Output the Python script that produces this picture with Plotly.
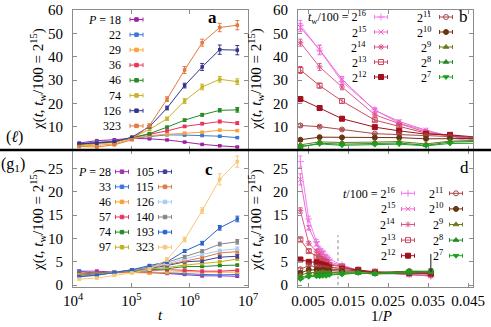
import plotly.graph_objects as go

FONT = "Liberation Serif, Times New Roman, serif"
W, H = 491, 327

# waiting times: t/100 = 2^k
t_exp = [7, 8, 9, 10, 11, 12, 13, 14, 15, 16]
t_vals = [100 * 2 ** k for k in t_exp]

# ---- panel a (l): chi vs t, one curve per P ----
P_a = [18, 22, 29, 36, 46, 74, 126, 323]
chi_a_18 = [3.0, 4.0, 4.4, 5.0, 4.8, 4.3, 3.4, 2.4, 1.8, 1.3]
chi_a_22 = [2.8, 3.4, 3.8, 5.0, 5.8, 6.5, 6.4, 6.2, 5.9, 5.3]
chi_a_29 = [1.8, 2.0, 2.6, 4.8, 6.2, 6.8, 7.2, 7.6, 8.5, 8.3]
chi_a_36 = [2.5, 3.0, 3.6, 5.3, 6.8, 8.2, 10.1, 11.3, 12.2, 11.5]
chi_a_46 = [2.3, 2.8, 3.4, 5.3, 7.0, 9.8, 12.8, 15.1, 17.0, 17.2]
chi_a_74 = [2.0, 2.5, 3.2, 5.4, 8.8, 13.4, 21.0, 27.0, 30.3, 29.3]
chi_a_126 = [2.6, 2.9, 3.5, 5.5, 10.0, 18.0, 27.6, 35.6, 43.0, 42.8]
chi_a_323 = [1.5, 1.3, 2.2, 4.4, 10.5, 21.8, 34.3, 46.0, 52.5, 53.5]
chi_a = [chi_a_18, chi_a_22, chi_a_29, chi_a_36, chi_a_46, chi_a_74, chi_a_126, chi_a_323]

err_a_18 = [0.2, 0.2, 0.2, 0.2, 0.2, 0.2, 0.2, 0.2, 0.2, 0.2]
err_a_22 = [0.2, 0.2, 0.2, 0.2, 0.3, 0.3, 0.3, 0.3, 0.3, 0.3]
err_a_29 = [0.2, 0.2, 0.2, 0.2, 0.3, 0.3, 0.4, 0.4, 0.4, 0.4]
err_a_36 = [0.2, 0.2, 0.2, 0.3, 0.3, 0.4, 0.5, 0.5, 0.6, 0.6]
err_a_46 = [0.2, 0.2, 0.2, 0.3, 0.3, 0.4, 0.5, 0.6, 0.7, 1.0]
err_a_74 = [0.2, 0.2, 0.2, 0.3, 0.5, 0.7, 1.0, 1.2, 1.2, 1.2]
err_a_126 = [0.2, 0.2, 0.3, 0.3, 0.5, 0.8, 1.0, 1.5, 2.0, 2.0]
err_a_323 = [0.2, 0.2, 0.3, 0.4, 0.7, 1.0, 1.5, 1.5, 1.8, 2.0]
err_a = [err_a_18, err_a_22, err_a_29, err_a_36, err_a_46, err_a_74, err_a_126, err_a_323]

colors_a = ["#a020a0", "#3a78d8", "#f9a23c", "#e8345c", "#228b22", "#c9b326", "#34348f", "#e27a3f"]

# 1/P positions of the P columns in panel b
invP_b = [0.0556, 0.0405, 0.0345, 0.0278, 0.0217, 0.0135, 0.0079, 0.0031]

# ---- panel c (g1): chi vs t, one curve per P ----
P_c = [28, 33, 46, 57, 74, 97, 105, 115, 126, 140, 193, 323]
chi_c_28 = [3.0, 3.0, 2.8, 2.8, 2.7, 2.5, 2.3, 2.0, 2.0, 1.9]
chi_c_33 = [3.0, 2.5, 2.8, 3.0, 2.8, 2.6, 2.5, 2.3, 2.2, 2.3]
chi_c_46 = [2.4, 2.4, 2.6, 2.7, 2.6, 2.7, 2.9, 2.8, 2.8, 2.8]
chi_c_57 = [2.6, 2.6, 2.7, 3.0, 3.1, 3.3, 3.2, 3.0, 3.0, 3.2]
chi_c_74 = [2.3, 2.5, 2.7, 3.0, 3.3, 3.5, 4.0, 4.0, 4.2, 4.3]
chi_c_97 = [2.2, 2.4, 2.7, 3.1, 3.4, 3.8, 4.3, 4.6, 5.0, 5.6]
chi_c_105 = [2.0, 2.3, 2.7, 3.2, 3.6, 4.2, 5.0, 5.2, 6.0, 6.2]
chi_c_115 = [2.0, 2.3, 2.8, 3.3, 3.7, 4.4, 5.2, 5.9, 6.9, 7.2]
chi_c_126 = [1.9, 2.2, 2.7, 3.2, 3.8, 4.6, 5.6, 6.6, 7.4, 7.8]
chi_c_140 = [1.9, 2.2, 2.7, 3.3, 3.9, 4.9, 6.1, 7.3, 8.8, 9.3]
chi_c_193 = [1.8, 2.1, 2.7, 3.3, 4.2, 5.0, 7.3, 9.0, 12.3, 14.2]
chi_c_323 = [1.3, 1.5, 2.1, 2.6, 3.4, 5.5, 9.8, 16.0, 22.7, 26.5]
chi_c = [chi_c_28, chi_c_33, chi_c_46, chi_c_57, chi_c_74, chi_c_97,
         chi_c_105, chi_c_115, chi_c_126, chi_c_140, chi_c_193, chi_c_323]

err_c_28 = [0.2, 0.2, 0.2, 0.2, 0.2, 0.2, 0.2, 0.2, 0.2, 0.2]
err_c_33 = [0.2, 0.2, 0.2, 0.2, 0.2, 0.2, 0.2, 0.2, 0.2, 0.2]
err_c_46 = [0.2, 0.2, 0.2, 0.2, 0.2, 0.2, 0.2, 0.2, 0.2, 0.2]
err_c_57 = [0.2, 0.2, 0.2, 0.2, 0.2, 0.2, 0.2, 0.2, 0.2, 0.2]
err_c_74 = [0.2, 0.2, 0.2, 0.2, 0.2, 0.2, 0.2, 0.2, 0.2, 0.2]
err_c_97 = [0.2, 0.2, 0.2, 0.2, 0.2, 0.2, 0.2, 0.2, 0.3, 0.3]
err_c_105 = [0.2, 0.2, 0.2, 0.2, 0.2, 0.2, 0.2, 0.3, 0.3, 0.4]
err_c_115 = [0.2, 0.2, 0.2, 0.2, 0.2, 0.2, 0.2, 0.3, 0.3, 0.3]
err_c_126 = [0.2, 0.2, 0.2, 0.2, 0.2, 0.2, 0.2, 0.3, 0.3, 0.4]
err_c_140 = [0.2, 0.2, 0.2, 0.2, 0.2, 0.2, 0.3, 0.3, 0.4, 0.5]
err_c_193 = [0.2, 0.2, 0.2, 0.2, 0.2, 0.3, 0.3, 0.4, 0.5, 0.6]
err_c_323 = [0.2, 0.2, 0.2, 0.2, 0.3, 0.4, 0.5, 0.6, 1.2, 1.2]
err_c = [err_c_28, err_c_33, err_c_46, err_c_57, err_c_74, err_c_97,
         err_c_105, err_c_115, err_c_126, err_c_140, err_c_193, err_c_323]

colors_c = ["#a030b0", "#3a76e0", "#f9a030", "#e8345e", "#228b22", "#c2b022",
            "#40409a", "#e07a40", "#a8cdf2", "#868686", "#2a62d0", "#f8c878"]

# ---- panels b, d: chi vs 1/P, one curve per t (same data transposed) ----
colors_t = ["#f27ff2", "#ee6ad0", "#dc5a90", "#cc4a60", "#a0101e",
            "#a84848", "#6a3410", "#6b7a22", "#2a8a2a", "#1ea01e"]
symbols_t = ["cross-thin-open", "x-thin-open", "asterisk-open", "square-open", "square",
             "circle-open", "circle", "triangle-up", "triangle-up", "triangle-down"]
legend_exp = [16, 15, 14, 13, 12, 11, 10, 9, 8, 7]

fig = go.Figure()

# panel a
for i, P in enumerate(P_a):
    c = colors_a[i]
    fig.add_trace(go.Scatter(x=t_vals, y=chi_a[i], xaxis="x", yaxis="y", mode="lines+markers",
                             line=dict(color=c, width=1), marker=dict(symbol="square", size=3.5, color=c),
                             error_y=dict(type="data", array=err_a[i], width=2, thickness=1, color=c),
                             showlegend=False))

# panel c
for i, P in enumerate(P_c):
    c = colors_c[i]
    fig.add_trace(go.Scatter(x=t_vals, y=chi_c[i], xaxis="x3", yaxis="y3", mode="lines+markers",
                             line=dict(color=c, width=1), marker=dict(symbol="square", size=3.5, color=c),
                             error_y=dict(type="data", array=err_c[i], width=2, thickness=1, color=c),
                             showlegend=False))

invP_d = [1.0 / P for P in P_c]

# panels b and d
for j, k in enumerate(legend_exp):
    col = t_exp.index(k)
    c = colors_t[j]
    mk = dict(symbol=symbols_t[j], size=5, color=c, line=dict(color=c, width=1))
    fig.add_trace(go.Scatter(x=invP_b, y=[row[col] for row in chi_a], xaxis="x2", yaxis="y2",
                             mode="lines+markers", line=dict(color=c, width=1), marker=mk,
                             error_y=dict(type="data", array=[row[col] for row in err_a],
                                          width=2, thickness=1, color=c),
                             showlegend=False))
    fig.add_trace(go.Scatter(x=invP_d, y=[row[col] for row in chi_c], xaxis="x4", yaxis="y4",
                             mode="lines+markers", line=dict(color=c, width=1), marker=mk,
                             error_y=dict(type="data", array=[row[col] for row in err_c],
                                          width=2, thickness=1, color=c),
                             showlegend=False))

# ---- hand-drawn gnuplot-style keys (pixel coordinates on an overlay axis) ----
annotations = []
LEG_FONT = dict(family=FONT, size=12, color="black")


def key_item(text, tx, cx, cy, color, symbol, size):
    annotations.append(dict(xref="x9", yref="y9", x=tx, y=cy, text=text, xanchor="right",
                            yanchor="middle", showarrow=False, font=LEG_FONT))
    fig.add_trace(go.Scatter(x=[cx], y=[cy], xaxis="x9", yaxis="y9", mode="markers",
                             marker=dict(symbol=symbol, size=size, color=color, line=dict(color=color, width=1)),
                             error_x=dict(type="constant", value=6.5, width=2, thickness=1, color=color),
                             showlegend=False, hoverinfo="skip"))


for i, P in enumerate(P_a):
    txt = "<i>P</i> = %d" % P if i == 0 else str(P)
    key_item(txt, 123, 136.5, 19.5 + 15.2 * i, colors_a[i], "square", 3.5)

for i, P in enumerate(P_c):
    txt = "<i>P</i> = %d" % P if i == 0 else str(P)
    if i < 6:
        key_item(txt, 113, 122, 171.7 + 15.1 * i, colors_c[i], "square", 3.5)
    else:
        key_item(txt, 156, 165, 171.7 + 15.1 * (i - 6), colors_c[i], "square", 3.5)

for j, k in enumerate(legend_exp):
    sup = "2<sup>%d</sup>" % k
    tb = "<i>t</i><sub>w</sub>/100 = " + sup if j == 0 else sup
    td = "<i>t</i>/100 = " + sup if j == 0 else sup
    if j < 5:
        key_item(tb, 368, 381, 17 + 15 * j, colors_t[j], symbols_t[j], 5)
        key_item(td, 397, 408, 193.3 + 15.6 * j, colors_t[j], symbols_t[j], 5)
    else:
        key_item(tb, 433, 446, 17 + 15 * (j - 5), colors_t[j], symbols_t[j], 5)
        key_item(td, 445, 456, 193.3 + 15.6 * (j - 5), colors_t[j], symbols_t[j], 5)

# panel letters, side labels and axis titles
TXT = dict(family=FONT, size=15, color="black")
for lab, px, py, bold in [("a", 212, 17, True), ("b", 463, 16, False), ("c", 209, 169, True), ("d", 464, 167, False)]:
    annotations.append(dict(xref="x9", yref="y9", x=px, y=py, showarrow=False,
                            text="<b>%s</b>" % lab if bold else lab, font=dict(family=FONT, size=17, color="black")))
annotations.append(dict(xref="x9", yref="y9", x=14, y=137, showarrow=False, text="(<i>ℓ</i>)",
                        font=dict(family=FONT, size=16, color="black")))
annotations.append(dict(xref="x9", yref="y9", x=13, y=164, showarrow=False, text="(g<sub>1</sub>)",
                        font=dict(family=FONT, size=16, color="black")))

ytitle = "χ(<i>t</i>, <i>t</i><sub>w</sub>/100 = 2<sup>15</sup>)"
for px, py in [(38, 79), (38, 220), (256, 79), (256, 220)]:
    annotations.append(dict(xref="x9", yref="y9", x=px, y=py, showarrow=False, textangle=-90,
                            text=ytitle, font=TXT))
annotations.append(dict(xref="x9", yref="y9", x=160, y=315, showarrow=False, text="<i>t</i>", font=TXT))
annotations.append(dict(xref="x9", yref="y9", x=381, y=316, showarrow=False, text="1/<i>P</i>", font=TXT))

# arrow in panel d
annotations.append(dict(xref="x4", yref="y4", axref="x4", ayref="y4", x=0.0357, y=2.6,
                        ax=0.0357, ay=7.0, showarrow=True, arrowhead=2, arrowsize=0.8,
                        arrowwidth=1.2, arrowcolor="#404040", text=""))

shapes = [
    dict(type="line", xref="x4", yref="y4", x0=0.0125, x1=0.0125, y0=0, y1=10.7,
         line=dict(color="#888888", width=1, dash="dot")),
    dict(type="line", xref="paper", yref="paper", x0=0, x1=1, y0=1 - 150 / H, y1=1 - 150 / H,
         line=dict(color="black", width=2.5)),
]

dom_l = [73 / W, 248 / W]
dom_r = [298 / W, 473 / W]
dom_t = [1 - 150 / H, 1 - 10 / H]
dom_b = [1 - 287 / H, 1 - 150 / H]

axis = dict(showline=True, linecolor="#8c8c8c", linewidth=1, mirror="ticks", ticks="inside",
            ticklen=4, tickcolor="#8c8c8c", showgrid=False, zeroline=False, automargin=False,
            fixedrange=True, ticklabelstandoff=6, tickfont=dict(family=FONT, size=15, color="black"))

dec_vals = [1e4, 1e5, 1e6, 1e7]
dec_text = ["10<sup>4</sup>", "10<sup>5</sup>", "10<sup>6</sup>", "10<sup>7</sup>"]
inv_vals = [0.005, 0.015, 0.025, 0.035, 0.045]
inv_text = ["0.005", "0.015", "0.025", "0.035", "0.045"]
ya_vals = [10, 20, 30, 40, 50, 60]
yc_vals = [0, 5, 10, 15, 20, 25]

fig.update_layout(
    width=W, height=H, margin=dict(l=0, r=0, t=0, b=0),
    paper_bgcolor="white", plot_bgcolor="rgba(0,0,0,0)",
    showlegend=False,
    xaxis=dict(axis, type="log", range=[4, 7], domain=dom_l, anchor="y", tickvals=dec_vals,
               showticklabels=False),
    yaxis=dict(axis, range=[0, 60], domain=dom_t, anchor="x", tickvals=ya_vals),
    xaxis2=dict(axis, range=[0.0025, 0.04625], domain=dom_r, anchor="y2", tickvals=inv_vals,
                showticklabels=False),
    yaxis2=dict(axis, range=[0, 60], domain=dom_t, anchor="x2", tickvals=ya_vals),
    xaxis3=dict(axis, type="log", range=[4, 7], domain=dom_l, anchor="y3", tickvals=dec_vals,
                ticktext=dec_text, ticklabelstandoff=0),
    yaxis3=dict(axis, range=[-0.4, 29], domain=dom_b, anchor="x3", tickvals=yc_vals),
    xaxis4=dict(axis, range=[0.0025, 0.04625], domain=dom_r, anchor="y4", tickvals=inv_vals,
                ticktext=inv_text, ticklabelstandoff=0),
    yaxis4=dict(axis, range=[-0.4, 29], domain=dom_b, anchor="x4", tickvals=yc_vals),
    xaxis9=dict(domain=[0, 1], range=[0, W], visible=False, fixedrange=True, anchor="y9"),
    yaxis9=dict(domain=[0, 1], range=[H, 0], visible=False, fixedrange=True, anchor="x9"),
    annotations=annotations,
    shapes=shapes,
)

fig.write_html("out.html", config={"displayModeBar": False},
               post_script="document.body.style.margin='0';")
